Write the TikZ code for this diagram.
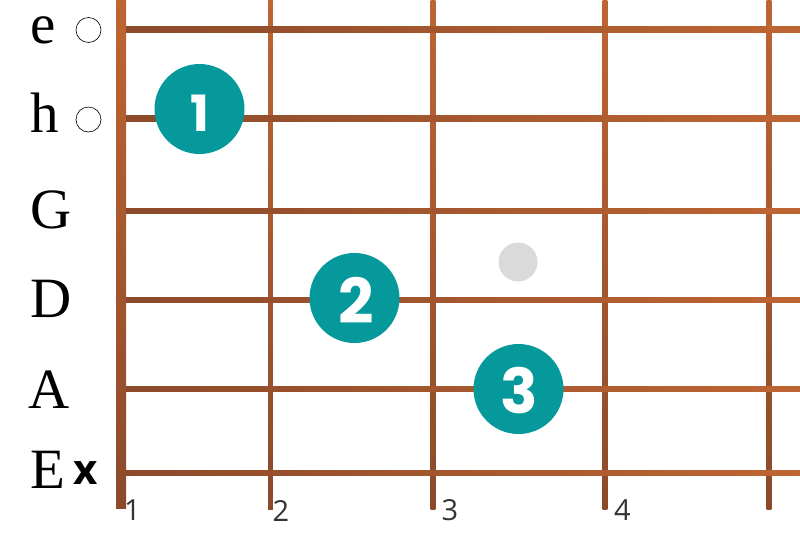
\documentclass[tikz,border=0pt]{standalone}
\usepackage{fontspec}
\setmainfont{Liberation Serif}
\newfontfamily\popfont{Poppins}
\newfontfamily\osfont{Open Sans}
\definecolor{copperlight}{HTML}{BE6532}
\definecolor{copperdark}{HTML}{8C4A2A}
\definecolor{fingerteal}{HTML}{06999C}
\definecolor{markgrey}{HTML}{DADADA}
\definecolor{fretnum}{HTML}{333333}
\tikzset{
  stringbar/.style={left color=copperdark, right color=copperlight},
  fretbar/.style={top color=copperlight, bottom color=copperdark},
  stringname/.style={inner sep=0pt, anchor=base west, font=\fontsize{57}{57}\selectfont},
  opencirc/.style={circle, draw=black, line width=0.6pt, minimum size=25pt, inner sep=0pt},
  finger/.style={circle, fill=fingerteal, minimum size=90pt, inner sep=0pt},
  fingernum/.style={inner sep=0pt, text=white, font=\popfont\bfseries\fontsize{62}{62}\selectfont},
  fretlabel/.style={inner sep=0pt, text=fretnum, font=\osfont\fontsize{29}{29}\selectfont},
}
\begin{document}
\begin{tikzpicture}[x=1pt, y=-1pt]
\useasboundingbox (0,0) rectangle (800,533);
% nut and frets
\fill[fretbar] (116,0) rectangle (126,508);
\foreach \fx in {270.5,433,605,769} {
  \fill[fretbar] (\fx-2.3,0) rectangle (\fx+2.3,509);
}
% strings
\foreach \sy in {29.5,118.5,211,300,389,473} {
  \fill[stringbar] (126,\sy-2.8) rectangle (800,\sy+2.8);
}
% string names
\node[stringname] (se) at (30,43) {e};
\node[stringname] (sh) at (30,132) {h};
\node[stringname] (sG) at (30,228) {G};
\node[stringname] (sD) at (30,317) {D};
\node[stringname] (sA) at (28,408) {A};
\node[stringname] (sE) at (30,488) {E};
% open / muted markers
\node[opencirc] (oe) at (88.5,30) {};
\node[opencirc] (oh) at (88.5,119.5) {};
\node[inner sep=0pt, font=\osfont\bfseries\fontsize{42}{42}\selectfont] (mE) at (86,473.5) {x};
% grey dot
\node[circle, fill=markgrey, minimum size=39pt, inner sep=0pt] (dot) at (518,262) {};
% fingers
\node[finger] (f1) at (199.5,109) {};
\node[finger] (f2) at (354.5,298) {};
\node[finger] (f3) at (518.5,389) {};
\node[fingernum, font=\popfont\bfseries\fontsize{50}{50}\selectfont] (n1) at (200,113.5) {1};
\node[fingernum] (n2) at (356,300.5) {2};
\node[fingernum] (n3) at (519,391) {3};
% fret numbers
\node[fretlabel] (l1) at (132.5,510.5) {1};
\node[fretlabel] (l2) at (281,510.5) {2};
\node[fretlabel] (l3) at (450,510.5) {3};
\node[fretlabel] (l4) at (622.5,510.5) {4};
\end{tikzpicture}
\end{document}
